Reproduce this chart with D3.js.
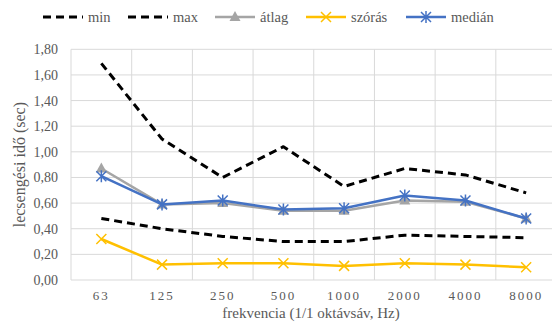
<!DOCTYPE html>
<html>
<head>
<meta charset="utf-8">
<script src="https://cdn.jsdelivr.net/npm/d3@7"></script>
<style>
  html, body { margin: 0; padding: 0; background: #fff; }
  svg { display: block; font-family: "Liberation Serif", "DejaVu Serif", serif; }
</style>
</head>
<body>
<svg id="chart" width="552" height="326"></svg>
<script>
// Frequency bands (1/1 octave)
const categories = ["63", "125", "250", "500", "1000", "2000", "4000", "8000"];

// Reverberation time series (sec)
const minValues    = [0.48, 0.40, 0.34, 0.30, 0.30, 0.35, 0.34, 0.33];
const maxValues    = [1.69, 1.10, 0.80, 1.04, 0.73, 0.87, 0.82, 0.68];
const atlagValues  = [0.87, 0.59, 0.60, 0.54, 0.54, 0.62, 0.61, 0.48];
const szorasValues = [0.32, 0.12, 0.13, 0.13, 0.11, 0.13, 0.12, 0.10];
const medianValues = [0.81, 0.59, 0.62, 0.55, 0.56, 0.66, 0.62, 0.48];

const yTicks = [0, 0.2, 0.4, 0.6, 0.8, 1.0, 1.2, 1.4, 1.6, 1.8];

const series = [
  { name: "min",    values: minValues,    color: "#000000", width: 3,   dash: "8,5", marker: null },
  { name: "max",    values: maxValues,    color: "#000000", width: 3,   dash: "8,5", marker: null },
  { name: "átlag",  values: atlagValues,  color: "#A5A5A5", width: 2.5, dash: null,  marker: "triangle" },
  { name: "szórás", values: szorasValues, color: "#FFC000", width: 2.5, dash: null,  marker: "x" },
  { name: "medián", values: medianValues, color: "#4472C4", width: 2.5, dash: null,  marker: "star" }
];

const svg = d3.select("#chart");
const plot = { left: 71, right: 556.5, top: 49.3, bottom: 280 };

const x = d3.scaleBand().domain(categories).range([plot.left, plot.right]);
const y = d3.scaleLinear().domain([0, 1.8]).range([plot.bottom, plot.top]);
const fmt = v => d3.format(".2f")(v).replace(".", ",");

// Gridlines
const grid = svg.append("g");
grid.selectAll("line.h").data(yTicks).join("line")
  .attr("x1", plot.left).attr("x2", plot.right)
  .attr("y1", d => y(d)).attr("y2", d => y(d))
  .attr("stroke", "#d9d9d9").attr("stroke-width", 1);
const bounds = categories.map(c => x(c)).concat([plot.right]);
grid.selectAll("line.v").data(bounds).join("line")
  .attr("x1", d => d).attr("x2", d => d)
  .attr("y1", plot.top).attr("y2", plot.bottom)
  .attr("stroke", "#d9d9d9").attr("stroke-width", 1);

// Y axis labels
const yAxis = d3.axisLeft(y).tickValues(yTicks).tickFormat(fmt).tickSize(0).tickPadding(13);
const gy = svg.append("g").attr("transform", `translate(${plot.left},0)`).call(yAxis);
gy.select(".domain").remove();
gy.selectAll("text").attr("fill", "#595959").style("font-size", "14px")
  .style("font-family", "'Liberation Serif', serif");

// X axis labels
const xAxis = d3.axisBottom(x).tickSize(0).tickPadding(11);
const gx = svg.append("g").attr("transform", `translate(0,${plot.bottom})`).call(xAxis);
gx.select(".domain").remove();
gx.selectAll("text").attr("fill", "#595959").style("font-size", "13px")
  .style("letter-spacing", "2px")
  .style("font-family", "'Liberation Serif', serif");

// Axis titles
svg.append("text").attr("x", 311).attr("y", 318)
  .attr("text-anchor", "middle").attr("fill", "#595959").style("font-size", "15px")
  .text("frekvencia (1/1 oktávsáv, Hz)");
svg.append("text")
  .attr("transform", `translate(25,${(plot.top + plot.bottom) / 2}) rotate(-90)`)
  .attr("text-anchor", "middle").attr("fill", "#595959").style("font-size", "16px")
  .text("lecsengési idő (sec)");

// Marker drawing
function drawMarker(g, type, color) {
  if (type === "triangle") {
    g.append("path").attr("d", "M0,-6L5.5,4L-5.5,4Z").attr("fill", color);
  } else if (type === "x") {
    g.append("path").attr("d", "M-5,-5L5,5M-5,5L5,-5").attr("stroke", color).attr("stroke-width", 1.5).attr("fill", "none");
  } else if (type === "star") {
    g.append("path").attr("d", "M-5,-5L5,5M-5,5L5,-5M0,-6L0,6").attr("stroke", color).attr("stroke-width", 1.5).attr("fill", "none");
  }
}

const cx = c => x(c) + x.bandwidth() / 2;
const line = d3.line().x((d, i) => cx(categories[i])).y(d => y(d));

series.forEach(s => {
  svg.append("path").datum(s.values)
    .attr("d", line).attr("fill", "none")
    .attr("stroke", s.color).attr("stroke-width", s.width)
    .attr("stroke-dasharray", s.dash).attr("stroke-linejoin", "round");
  if (s.marker) {
    s.values.forEach((v, i) => {
      const g = svg.append("g").attr("transform", `translate(${cx(categories[i])},${y(v)})`);
      drawMarker(g, s.marker, s.color);
    });
  }
});

// Legend
const legendItems = [
  { s: series[0], x: 43 },
  { s: series[1], x: 128 },
  { s: series[2], x: 215 },
  { s: series[3], x: 306 },
  { s: series[4], x: 406 }
];
const legend = svg.append("g");
legendItems.forEach(it => {
  const g = legend.append("g").attr("transform", `translate(${it.x},17)`);
  g.append("line").attr("x1", 0).attr("x2", 40).attr("y1", 0).attr("y2", 0)
    .attr("stroke", it.s.color).attr("stroke-width", it.s.width)
    .attr("stroke-dasharray", it.s.dash);
  if (it.s.marker) {
    const m = g.append("g").attr("transform", "translate(20,0)");
    drawMarker(m, it.s.marker, it.s.color);
  }
  g.append("text").attr("x", 45).attr("y", 5).attr("fill", "#595959")
    .style("font-size", "14.5px").text(it.s.name);
});
</script>
</body>
</html>
